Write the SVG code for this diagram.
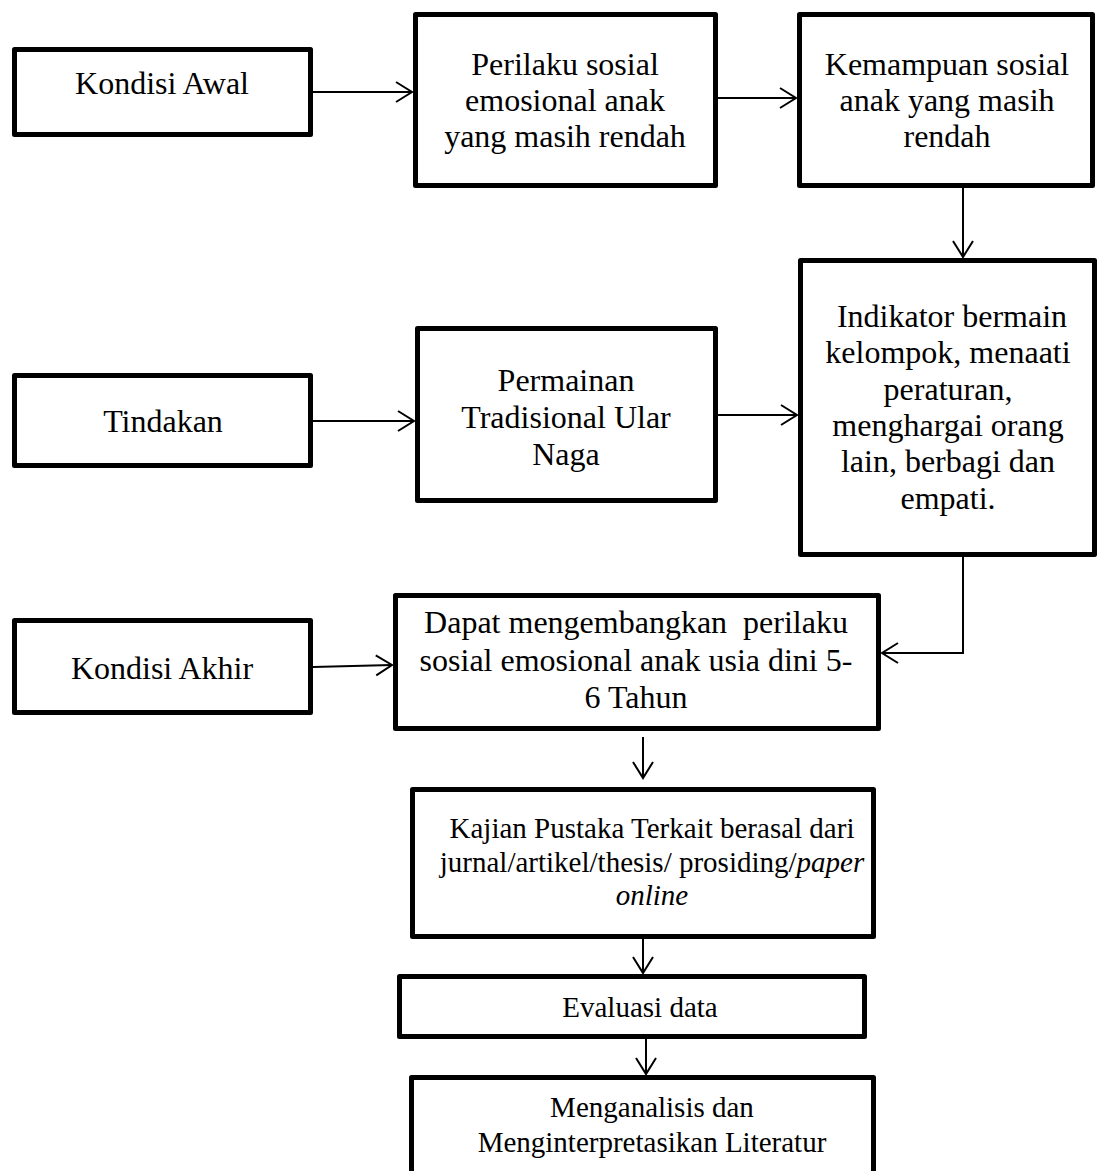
<svg xmlns="http://www.w3.org/2000/svg" width="1097" height="1171" viewBox="0 0 1097 1171">
<style>
.box{fill:#fff;stroke:#000;stroke-width:5;stroke-linejoin:round}
.t{font-family:"Liberation Serif","Times New Roman",serif;font-size:32px;fill:#000;text-anchor:middle}
.s{font-size:29px}
.c{fill:none;stroke:#000;stroke-width:2}
</style>
<defs>
<marker id="ah" markerUnits="userSpaceOnUse" markerWidth="22" markerHeight="26" viewBox="0 0 22 26" refX="18" refY="12" orient="auto">
<path d="M2,2 L18,12 L2,22" fill="none" stroke="#000" stroke-width="2"/>
</marker>
</defs>
<rect width="1097" height="1171" fill="#fff"/>
<g id="connectors">
<line class="c" x1="313" y1="92" x2="412" y2="92" marker-end="url(#ah)"/>
<line class="c" x1="718" y1="98" x2="796" y2="98" marker-end="url(#ah)"/>
<line class="c" x1="963" y1="188" x2="963" y2="257" marker-end="url(#ah)"/>
<line class="c" x1="313" y1="421" x2="414" y2="421" marker-end="url(#ah)"/>
<line class="c" x1="718" y1="415" x2="797" y2="415" marker-end="url(#ah)"/>
<polyline class="c" points="963,557 963,653 882,653" marker-end="url(#ah)"/>
<line class="c" x1="313" y1="667" x2="392" y2="665" marker-end="url(#ah)"/>
<line class="c" x1="643" y1="737" x2="643" y2="778" marker-end="url(#ah)"/>
<line class="c" x1="643" y1="939" x2="643" y2="973" marker-end="url(#ah)"/>
<line class="c" x1="646" y1="1039" x2="646" y2="1074" marker-end="url(#ah)"/>
</g>
<g id="kondisi-awal">
<rect class="box" x="14.5" y="49.5" width="296" height="85"/>
<text class="t" x="162" y="94">Kondisi Awal</text>
</g>
<g id="perilaku">
<rect class="box" x="415.5" y="14.5" width="300" height="171"/>
<text class="t" x="565" y="75">Perilaku sosial</text>
<text class="t" x="565" y="111">emosional anak</text>
<text class="t" x="565" y="147">yang masih rendah</text>
</g>
<g id="kemampuan">
<rect class="box" x="799.5" y="14.5" width="293" height="171"/>
<text class="t" x="947" y="75">Kemampuan sosial</text>
<text class="t" x="947" y="111">anak yang masih</text>
<text class="t" x="947" y="147">rendah</text>
</g>
<g id="indikator">
<rect class="box" x="800.5" y="260.5" width="294" height="294"/>
<text class="t" x="952" y="327">Indikator bermain</text>
<text class="t" x="948" y="363">kelompok, menaati</text>
<text class="t" x="948" y="400">peraturan,</text>
<text class="t" x="948" y="436">menghargai orang</text>
<text class="t" x="948" y="472">lain, berbagi dan</text>
<text class="t" x="948" y="509">empati.</text>
</g>
<g id="tindakan">
<rect class="box" x="14.5" y="375.5" width="296" height="90"/>
<text class="t" x="163" y="432">Tindakan</text>
</g>
<g id="permainan">
<rect class="box" x="417.5" y="328.5" width="298" height="172"/>
<text class="t" x="566" y="391">Permainan</text>
<text class="t" x="566" y="428">Tradisional Ular</text>
<text class="t" x="566" y="465">Naga</text>
</g>
<g id="kondisi-akhir">
<rect class="box" x="14.5" y="620.5" width="296" height="92"/>
<text class="t" x="162" y="679">Kondisi Akhir</text>
</g>
<g id="dapat">
<rect class="box" x="395.5" y="595.5" width="483" height="133"/>
<text class="t" x="636" y="633" xml:space="preserve">Dapat mengembangkan  perilaku</text>
<text class="t" x="636" y="671">sosial emosional anak usia dini 5-</text>
<text class="t" x="636" y="708">6 Tahun</text>
</g>
<g id="kajian">
<rect class="box" x="412.5" y="789.5" width="461" height="147"/>
<text class="t s" x="652" y="838">Kajian Pustaka Terkait berasal dari</text>
<text class="t s" x="652" y="872">jurnal/artikel/thesis/ prosiding/<tspan font-style="italic">paper</tspan></text>
<text class="t s" x="652" y="905" font-style="italic">online</text>
</g>
<g id="evaluasi">
<rect class="box" x="399.5" y="976.5" width="465" height="60"/>
<text class="t s" x="640" y="1017">Evaluasi data</text>
</g>
<g id="menganalisis">
<rect class="box" x="411.5" y="1077.5" width="462" height="120"/>
<text class="t s" x="652" y="1117">Menganalisis dan</text>
<text class="t s" x="652" y="1152">Menginterpretasikan Literatur</text>
</g>
</svg>
